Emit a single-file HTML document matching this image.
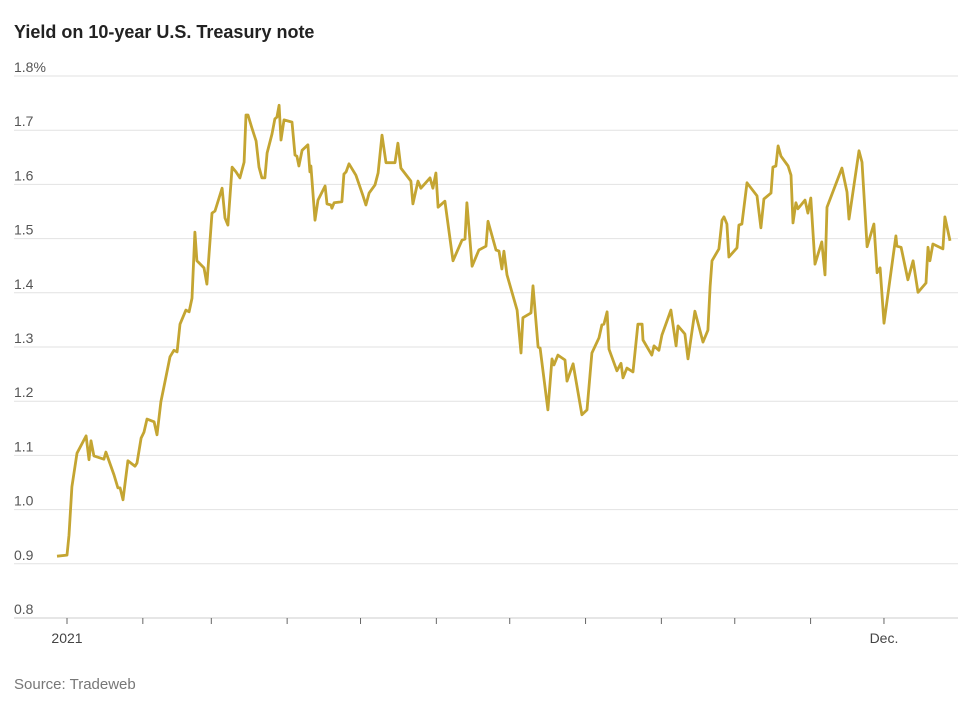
<!DOCTYPE html>
<html><head><meta charset="utf-8"><style>
html,body{margin:0;padding:0;background:#fff;width:968px;height:708px;overflow:hidden;font-family:"Liberation Sans",sans-serif}
svg{position:absolute;left:0;top:0}
</style></head><body>
<svg id="chart" width="968" height="708">
<text x="14" y="38" font-size="18" font-weight="bold" fill="#222">Yield on 10-year U.S. Treasury note</text>
<text x="14" y="689" font-size="15" fill="#777">Source: Tradeweb</text>
<g id="grid"></g><g id="xaxis"></g><g id="series"></g>
</svg>
<script>
const yTicks=[0.8,0.9,1.0,1.1,1.2,1.3,1.4,1.5,1.6,1.7,1.8];
const yTickLabels=["0.8","0.9","1.0","1.1","1.2","1.3","1.4","1.5","1.6","1.7","1.8%"];
const monthStartDays=[0,31,59,90,120,151,181,212,243,273,304,334];
const monthLabels=["2021","","","","","","","","","","","Dec."];
const days=[-4.1,0,0.8,2,4.1,7.8,9,9.8,11,15.1,15.9,19.2,20.8,21.7,22.9,24.9,27.8,28.6,30.3,31.5,32.7,35.6,36.8,38.4,40.1,42.1,43.7,45,46.2,48.6,49.9,51.1,52.3,53.1,56,57.2,59.3,60.5,63.4,64.6,65.8,67.5,69.1,70.7,72.4,73.2,74,75.6,77.3,78.5,79.7,80.9,81.8,83.8,85,85.8,86.7,87.5,88.7,92,93.2,94,94.8,96.1,98.5,99.3,99.7,101.4,102.6,105.5,106.3,107.9,108.3,109.2,112.4,113.2,114.1,115.3,118.1,119.8,121,122.2,123.5,125.9,127.2,128.8,130.4,134.1,135.3,136.5,140.6,141.4,143.5,144.7,148.4,149.6,150.8,151.7,154.5,157.8,161.5,162.7,163.5,165.6,168.4,171.3,172.1,175.4,176.6,177.8,178.6,179.9,184,185.6,186.4,189.7,190.5,192.6,193.4,196.6,198.3,199.1,200.7,203.6,204.4,206.9,210.5,212.6,214.6,217.5,218.7,219.5,220.8,221.6,224.8,226.5,227.3,228.9,231.4,233.4,235.1,235.5,239.1,240,242,243.2,246.9,249,249.8,252.6,253.9,256.7,260,262,262.9,263.7,266.5,267.8,268.6,269.8,270.6,273.9,274.7,275.9,278,282.1,283.7,284.9,287.8,288.6,289.8,290.7,291.9,294.8,296,296.8,298,298.8,301.7,302.9,304.1,305.8,308.6,309.9,310.7,316.8,318.9,319.7,323.8,325,327.1,329.9,331.2,332.4,334,338.9,339.3,341,343.8,345.9,347.9,351.2,352,352.8,354,358.1,358.9,361];
const yields=[0.914,0.916,0.953,1.042,1.104,1.136,1.092,1.127,1.099,1.093,1.106,1.064,1.04,1.04,1.018,1.09,1.08,1.086,1.132,1.143,1.167,1.162,1.138,1.199,1.237,1.282,1.294,1.291,1.342,1.368,1.365,1.39,1.512,1.459,1.446,1.416,1.547,1.551,1.593,1.538,1.525,1.632,1.623,1.612,1.641,1.728,1.728,1.704,1.68,1.632,1.612,1.612,1.658,1.693,1.721,1.724,1.746,1.682,1.719,1.715,1.654,1.652,1.634,1.663,1.673,1.623,1.634,1.534,1.571,1.597,1.564,1.562,1.556,1.566,1.568,1.619,1.623,1.638,1.617,1.595,1.579,1.562,1.584,1.599,1.621,1.691,1.64,1.64,1.676,1.63,1.606,1.564,1.606,1.593,1.612,1.593,1.621,1.558,1.569,1.459,1.497,1.499,1.566,1.449,1.479,1.486,1.532,1.479,1.477,1.444,1.477,1.433,1.368,1.289,1.354,1.363,1.413,1.3,1.298,1.184,1.278,1.267,1.285,1.276,1.237,1.269,1.175,1.184,1.289,1.317,1.341,1.342,1.365,1.296,1.256,1.27,1.243,1.261,1.254,1.342,1.342,1.313,1.285,1.302,1.294,1.322,1.368,1.302,1.339,1.324,1.278,1.366,1.309,1.331,1.411,1.459,1.481,1.534,1.54,1.527,1.466,1.483,1.525,1.527,1.603,1.579,1.52,1.573,1.584,1.632,1.634,1.671,1.652,1.634,1.617,1.529,1.566,1.555,1.571,1.547,1.575,1.453,1.494,1.433,1.558,1.63,1.586,1.536,1.662,1.641,1.485,1.527,1.437,1.446,1.344,1.505,1.486,1.484,1.424,1.459,1.401,1.418,1.484,1.459,1.49,1.481,1.54,1.496];

const NS="http://www.w3.org/2000/svg";
const X0=67,PXD=2.446,Y0=618,PXV=542;
const xScale=d=>X0+d*PXD;
const yScale=v=>Y0-(v-0.8)*PXV;
function mk(tag,attrs,parent){const e=document.createElementNS(NS,tag);for(const k in attrs)e.setAttribute(k,attrs[k]);parent.appendChild(e);return e;}
const grid=document.getElementById('grid');
yTicks.forEach((v,i)=>{
  const y=yScale(v);
  const l=mk('line',{x1:14,x2:958,y1:y,y2:y,stroke:i===0?'#ccc':'#e2e2e2','stroke-width':1},grid);
  
  
  const t=mk('text',{x:14,y:y-4,'font-size':14,fill:'#555'},grid);
  t.textContent=yTickLabels[i];
  
  
});
const xa=document.getElementById('xaxis');
monthStartDays.forEach((d,i)=>{
  const x=xScale(d);
  const tk=mk('line',{x1:x,x2:x,y1:Y0,y2:Y0+6,stroke:'#666','stroke-width':1},xa);
  
  
  if(monthLabels[i]){
    const t=mk('text',{x:x,y:Y0+25,'font-size':14,fill:'#444','text-anchor':'middle'},xa);
    t.textContent=monthLabels[i];
    
    
  }
});
const pts=days.map((d,i)=>xScale(d).toFixed(1)+','+yScale(yields[i]).toFixed(1)).join(' ');
const line=mk('polyline',{points:pts,fill:'none',stroke:'#c4a532','stroke-width':2.8,'stroke-linejoin':'round'},document.getElementById('series'));


</script>
</body></html>
